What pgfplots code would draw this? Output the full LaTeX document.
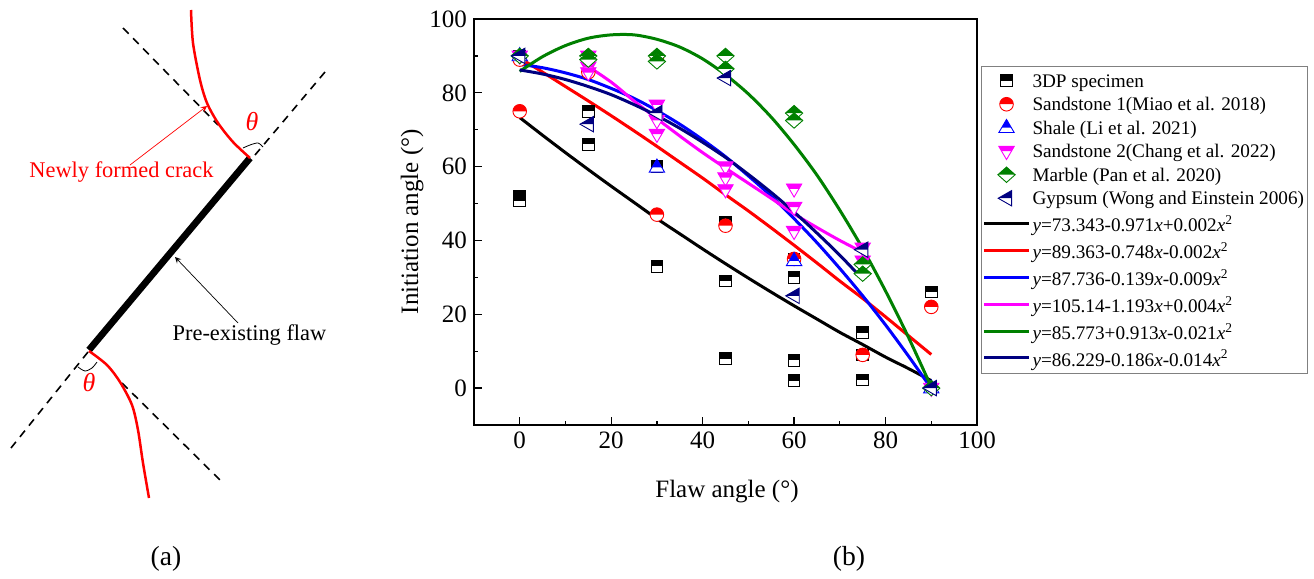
\documentclass[border=0pt]{standalone}
\usepackage{fontspec}
\setmainfont{Liberation Serif}
\usepackage{pgfplots}
\pgfplotsset{compat=1.18}
\definecolor{cnavy}{RGB}{0,0,128}
\definecolor{cgreen}{RGB}{0,128,0}
\definecolor{cmag}{RGB}{255,0,255}
\newcommand{\whitefirst}[1]{\begin{pgfscope}\pgfsetfillcolor{white}#1\pgfusepathqfill\end{pgfscope}}
\pgfdeclareplotmark{hsq}{%
 \def\shape{\pgfpathrectangle{\pgfpoint{-\pgfplotmarksize}{-\pgfplotmarksize}}{\pgfpoint{2\pgfplotmarksize}{2\pgfplotmarksize}}}%
 \whitefirst{\shape}%
 \pgfpathrectangle{\pgfpoint{-\pgfplotmarksize}{0pt}}{\pgfpoint{2\pgfplotmarksize}{\pgfplotmarksize}}\pgfusepathqfill
 \shape\pgfusepathqstroke}
\pgfdeclareplotmark{hci}{%
 \def\shape{\pgfpathcircle{\pgfpointorigin}{\pgfplotmarksize}}%
 \whitefirst{\shape}%
 \pgfpathmoveto{\pgfpoint{-\pgfplotmarksize}{0pt}}\pgfpatharc{180}{0}{\pgfplotmarksize}\pgfpathclose\pgfusepathqfill
 \shape\pgfusepathqstroke}
\pgfdeclareplotmark{hup}{%
 \def\shape{\pgfpathmoveto{\pgfpoint{0pt}{1.3*\pgfplotmarksize}}\pgfpathlineto{\pgfpoint{1.2*\pgfplotmarksize}{-0.75*\pgfplotmarksize}}\pgfpathlineto{\pgfpoint{-1.2*\pgfplotmarksize}{-0.75*\pgfplotmarksize}}\pgfpathclose}%
 \whitefirst{\shape}%
 \pgfpathmoveto{\pgfpoint{0pt}{1.3*\pgfplotmarksize}}\pgfpathlineto{\pgfpoint{0.76*\pgfplotmarksize}{0pt}}\pgfpathlineto{\pgfpoint{-0.76*\pgfplotmarksize}{0pt}}\pgfpathclose\pgfusepathqfill
 \shape\pgfusepathqstroke}
\pgfdeclareplotmark{hdn}{%
 \def\shape{\pgfpathmoveto{\pgfpoint{0pt}{-1.3*\pgfplotmarksize}}\pgfpathlineto{\pgfpoint{1.2*\pgfplotmarksize}{0.75*\pgfplotmarksize}}\pgfpathlineto{\pgfpoint{-1.2*\pgfplotmarksize}{0.75*\pgfplotmarksize}}\pgfpathclose}%
 \whitefirst{\shape}%
 \pgfpathmoveto{\pgfpoint{-1.2*\pgfplotmarksize}{0.75*\pgfplotmarksize}}\pgfpathlineto{\pgfpoint{1.2*\pgfplotmarksize}{0.75*\pgfplotmarksize}}\pgfpathlineto{\pgfpoint{0.76*\pgfplotmarksize}{0pt}}\pgfpathlineto{\pgfpoint{-0.76*\pgfplotmarksize}{0pt}}\pgfpathclose\pgfusepathqfill
 \shape\pgfusepathqstroke}
\pgfdeclareplotmark{hdi}{%
 \def\shape{\pgfpathmoveto{\pgfpoint{0pt}{1.2*\pgfplotmarksize}}\pgfpathlineto{\pgfpoint{1.35*\pgfplotmarksize}{0pt}}\pgfpathlineto{\pgfpoint{0pt}{-1.2*\pgfplotmarksize}}\pgfpathlineto{\pgfpoint{-1.35*\pgfplotmarksize}{0pt}}\pgfpathclose}%
 \whitefirst{\shape}%
 \pgfpathmoveto{\pgfpoint{0pt}{1.2*\pgfplotmarksize}}\pgfpathlineto{\pgfpoint{1.35*\pgfplotmarksize}{0pt}}\pgfpathlineto{\pgfpoint{-1.35*\pgfplotmarksize}{0pt}}\pgfpathclose\pgfusepathqfill
 \shape\pgfusepathqstroke}
\pgfdeclareplotmark{hlt}{%
 \def\shape{\pgfpathmoveto{\pgfpoint{-1.3*\pgfplotmarksize}{0pt}}\pgfpathlineto{\pgfpoint{0.8*\pgfplotmarksize}{1.2*\pgfplotmarksize}}\pgfpathlineto{\pgfpoint{0.8*\pgfplotmarksize}{-1.2*\pgfplotmarksize}}\pgfpathclose}%
 \whitefirst{\shape}%
 \pgfpathmoveto{\pgfpoint{-1.3*\pgfplotmarksize}{0pt}}\pgfpathlineto{\pgfpoint{0.8*\pgfplotmarksize}{1.2*\pgfplotmarksize}}\pgfpathlineto{\pgfpoint{0.8*\pgfplotmarksize}{0pt}}\pgfpathclose\pgfusepathqfill
 \shape\pgfusepathqstroke}
\pgfplotsset{
 ptset/.style={only marks,mark size=#1,line width=0.45pt,
  legend image code/.code={\draw[mark repeat=2,mark phase=2,##1] plot coordinates {(0pt,0pt)(11.25pt,0pt)(22.5pt,0pt)};}},
 fit/.style={no marks,smooth,line width=1.5pt,
  legend image code/.code={\draw[##1] (0pt,0pt)--(22.5pt,0pt);}},
}
\newcommand{\ps}{\rule[-2.6pt]{0pt}{10.65pt}}
\newcommand{\ls}{\rule[-2.6pt]{0pt}{12.35pt}}
\newcommand{\leg}[3]{\ls\textit{y}=#1\textit{x}#2\textit{x}\textsuperscript{2}}
\begin{document}
\begin{tikzpicture}
\path[use as bounding box] (0,0) rectangle (657pt,289.5pt);
% panel (a)
\begin{axis}[at={(0pt,0pt)},anchor=south west,scale only axis,width=657pt,height=289.5pt,
 xmin=0,xmax=1314,ymin=0,ymax=579,y dir=reverse,hide axis,clip=false]
\addplot[black,line width=0.8pt,dash pattern=on 4pt off 3.2pt] coordinates {(123,28)(218,125)};
\addplot[black,line width=0.8pt,dash pattern=on 4pt off 3.2pt] coordinates {(325,72)(255,155)};
\addplot[black,line width=0.8pt,dash pattern=on 4pt off 3.2pt] coordinates {(88,352)(11,448)};
\addplot[black,line width=0.8pt,dash pattern=on 4pt off 3.2pt] coordinates {(122,383)(222,482)};
\addplot[black,line width=3.4pt] coordinates {(250,158)(89,350)};
\addplot[red,line width=1.25pt,smooth] coordinates {(191,10)(193,43)(200,80)(207,103)(218,123)(233,142)(250,158)};
\addplot[red,line width=1.25pt,smooth] coordinates {(89,351)(107,365)(120,382)(132,405)(138,430)(143,463)(149,498)};
\addplot[red,line width=0.35pt,-stealth] coordinates {(130,165)(207,106)};
\addplot[black,line width=0.35pt,-stealth] coordinates {(238,323)(175,257)};
\addplot[black,line width=0.4pt,smooth] coordinates {(243,148)(250,145)(258,143)(263,147)};
\addplot[black,line width=0.4pt,smooth] coordinates {(78,367)(85,371)(92,368)(97,362)};
\node[red,font=\fontsize{11.2}{13}\selectfont] at (axis cs:121.5,172) {Newly formed crack};
\node[black,font=\fontsize{11.2}{13}\selectfont] at (axis cs:249.5,335) {Pre-existing flaw};
\node[red,font=\fontsize{13}{15}\selectfont\itshape] at (axis cs:252,122) {θ};
\node[red,font=\fontsize{13}{15}\selectfont\itshape] at (axis cs:89,383) {θ};
\node[black,font=\fontsize{13.8}{16}\selectfont] at (axis cs:166,559) {(a)};
\node[black,font=\fontsize{13.8}{16}\selectfont] at (axis cs:849,559) {(b)};
\end{axis}
% panel (b)
\begin{axis}[at={(237pt,77pt)},anchor=south west,scale only axis,width=251.5pt,height=203pt,
 xmin=-10,xmax=100,ymin=-10,ymax=100,
 xtick={0,20,40,60,80,100},ytick={0,20,40,60,80,100},minor tick num=1,
 xtick pos=bottom,ytick pos=left,tick align=inside,
 major tick length=4pt,minor tick length=2pt,
 every tick/.append style={black,line width=0.6pt},
 axis line style={line width=0.9pt},
 /pgf/number format/assume math mode=true,
 ticklabel style={font=\fontsize{12.5}{14}\selectfont},
 xlabel={Flaw angle (°)},ylabel={Initiation angle (°)},
 label style={font=\fontsize{12.5}{15}\selectfont},
 xlabel style={at={(axis description cs:0.503,-0.165)},anchor=center},
 ylabel style={at={(axis description cs:-0.123,0.501)},anchor=center},
 legend cell align=left,
 legend style={at={(axis description cs:1.008,0.884)},anchor=north west,draw=gray,line width=0.5pt,
  font=\fontsize{9.6}{11}\selectfont,inner xsep=0.5pt,inner ysep=1.5pt,row sep=0.6pt,
  nodes={inner ysep=0.8pt,inner xsep=1pt}},
]
\addplot[ptset=2.9pt,mark=hsq,mark options={draw=black,fill=black,solid}] coordinates {
(0,90)(0,52)(0,50.7)(15,75)(15,66)(30,60)(30,33)(45,45)(45,29)(45,8)(60,35)(60,30)(60,7.5)(60,2)(75,15)(75,9)(75,2.2)(90,26)};
\addlegendentry{\ps 3DP specimen}
\addplot[ptset=3.4pt,mark=hci,mark options={draw=red,fill=red,solid}] coordinates {
(0,89)(0,75)(15,85.6)(30,89.5)(30,47)(45,44)(60,35)(75,9)(90,22)};
\addlegendentry{\ps Sandstone 1(Miao et al. 2018)}
\addplot[ptset=3.2pt,mark=hup,mark options={draw=blue,fill=blue,solid}] coordinates {
(0,90)(30,59.8)(60,34.5)(90,0)};
\addlegendentry{\ps Shale (Li et al. 2021)}
\addplot[ptset=3.2pt,mark=hdn,mark options={draw=cmag,fill=cmag,solid}] coordinates {
(0,90)(15,90)(15,87)(15,85.5)(30,76.7)(30,72.5)(30,68.8)(45,60)(45,57)(45,53.8)(60,54)(60,49)(60,42.5)(75,38)(75,34.5)(90,0)};
\addlegendentry{\ps Sandstone 2(Chang et al. 2022)}
\addplot[ptset=3.2pt,mark=hdi,mark options={draw=cgreen,fill=cgreen,solid}] coordinates {
(0,90)(15,90)(15,89)(30,90)(30,88.5)(45,90)(45,86.5)(60,74.5)(60,72.5)(75,33.5)(75,31)(90,0)};
\addlegendentry{\ps Marble (Pan et al. 2020)}
\addplot[ptset=3.2pt,mark=hlt,mark options={draw=cnavy,fill=cnavy,solid}] coordinates {
(0,90)(15,71.5)(30,74.5)(45,84)(60,25)(75,37.5)(90,0)};
\addlegendentry{\ps Gypsum (Wong and Einstein 2006)}
\addplot[fit,black] coordinates {(0,73.3)(5,68.5)(10,63.8)(15,59.2)(20,54.7)(25,50.3)(30,45.9)(35,41.8)(40,37.7)(45,33.7)(50,29.8)(55,26.0)(60,22.3)(65,18.7)(70,15.1)(75,11.8)(80,8.4)(85,5.3)(90,2.0)};
\addlegendentry{\leg{73.343-0.971}{+0.002}{}}
\addplot[fit,red] coordinates {(0,89.4)(5,85.6)(10,81.7)(15,77.8)(20,73.8)(25,69.7)(30,65.5)(35,61.2)(40,56.9)(45,52.4)(50,48.0)(55,43.4)(60,38.7)(65,33.9)(70,29.0)(75,24.3)(80,19.3)(85,14.2)(90,9.1)};
\addlegendentry{\leg{89.363-0.748}{-0.002}{}}
\addplot[fit,blue] coordinates {(0,87.7)(5,86.8)(10,85.4)(15,83.6)(20,81.2)(25,78.5)(30,75.2)(35,71.5)(40,67.3)(45,62.7)(50,57.5)(55,52.0)(60,45.9)(65,39.4)(70,32.4)(75,25.0)(80,17.1)(85,8.7)(90,-0.1)};
\addlegendentry{\leg{87.736-0.139}{-0.009}{}}
\addplot[fit,cmag] coordinates {(15,87.1)(20,82.9)(25,77.8)(30,73.0)(35,68.3)(40,63.8)(45,59.6)(50,55.5)(55,51.4)(60,47.2)(65,43.5)(70,40.0)(75,36.8)};
\addlegendentry{\leg{105.14-1.193}{+0.004}{}}
\addplot[fit,cgreen] coordinates {(0,85.8)(5,89.8)(10,92.8)(15,94.8)(20,95.7)(25,95.7)(30,94.5)(35,92.4)(40,89.2)(45,84.9)(50,79.7)(55,73.4)(60,66.0)(65,57.7)(70,48.2)(75,37.8)(80,26.3)(85,13.8)(90,0.3)};
\addlegendentry{\leg{85.773+0.913}{-0.021}{}}
\addplot[fit,cnavy] coordinates {(0,86.2)(5,85.1)(10,83.6)(15,81.7)(20,79.5)(25,76.8)(30,73.8)(35,70.4)(40,66.6)(45,62.5)(50,57.9)(55,53.0)(60,47.7)(65,42.0)(70,36.0)(75,29.5)};
\addlegendentry{\leg{86.229-0.186}{-0.014}{}}
\end{axis}
\end{tikzpicture}
\end{document}
